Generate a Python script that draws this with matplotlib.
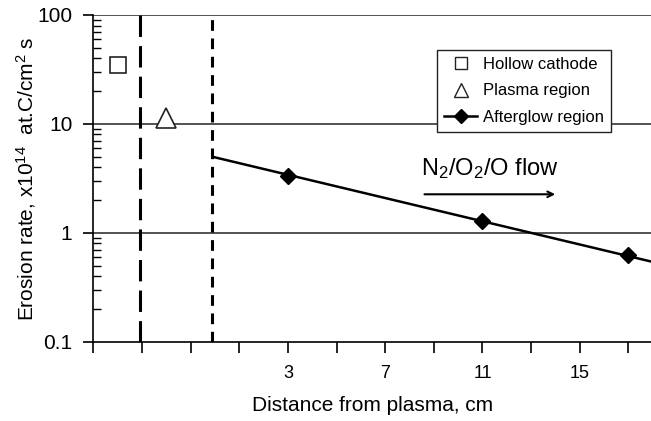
import matplotlib
matplotlib.use("Agg")
import matplotlib.pyplot as plt
from matplotlib.lines import Line2D
from matplotlib.ticker import FixedLocator, FixedFormatter, LogLocator, NullFormatter

plt.rcParams['font.family'] = ['Liberation Sans', 'DejaVu Sans']
plt.rcParams['mathtext.fontset'] = 'custom'
plt.rcParams['mathtext.rm'] = 'Liberation Sans'
plt.rcParams['mathtext.it'] = 'Liberation Sans:italic'

# data
hollow_x = [-4]
hollow_y = [34.7]
plasma_x = [-2]
plasma_y = [11.3]
after_x = [3, 11, 17]
after_y = [3.33, 1.28, 0.625]
fit_x = [0, 17.93]
fit_y = [4.93, 0.545]
boundaries = [-3.1, -0.1]
xticks = [-5, -3, -1, 1, 3, 5, 7, 9, 11, 13, 15, 17]
xticklabels = ["", "", "", "", "3", "", "7", "", "11", "", "15", ""]
yticks = [0.1, 1, 10, 100]
yticklabels = ["0.1", "1", "10", "100"]

fig = plt.figure(figsize=(6.51, 4.21), dpi=100)
ax = fig.add_axes([93.3/651, 1-341.7/421, 1-93.3/651, (341.7-15)/421])
ax.set_yscale('log')
ax.set_xlim(-5, 17.93)
ax.set_ylim(0.1, 100)

for v in yticks[1:]:
    ax.axhline(v, color='#444444', lw=1.3, zorder=1)

ax.axvline(boundaries[0], color='black', lw=2.2, dashes=(7, 3), zorder=2)
ax.axvline(boundaries[1], color='black', lw=2.2, dashes=(3.5, 2.5), zorder=2)

ax.plot(hollow_x, hollow_y, 's', ms=11, mfc='white', mec='#222222', mew=1.2, zorder=3)
ax.plot(plasma_x, plasma_y, '^', ms=14, mfc='white', mec='#222222', mew=1.2, zorder=3)
ax.plot(fit_x, fit_y, '-', color='black', lw=1.8, zorder=3)
ax.plot(after_x, after_y, 'D', ms=8.5, color='black', zorder=4)

ax.spines['top'].set_visible(False)
ax.spines['right'].set_visible(False)
ax.spines['left'].set_linewidth(1.2)
ax.spines['bottom'].set_linewidth(1.2)

ax.xaxis.set_major_locator(FixedLocator(xticks))
ax.xaxis.set_major_formatter(FixedFormatter(xticklabels))
ax.yaxis.set_major_locator(FixedLocator(yticks))
ax.yaxis.set_major_formatter(FixedFormatter(yticklabels))
ax.yaxis.set_minor_locator(LogLocator(base=10, subs=range(2, 10)))
ax.yaxis.set_minor_formatter(NullFormatter())
ax.tick_params(axis='x', direction='out', length=8, width=1.2, labelsize=13, pad=9)
ax.tick_params(axis='y', which='major', direction='out', length=7, width=1.2, labelsize=15, pad=8)
ax.tick_params(axis='y', which='minor', direction='in', length=6, width=1.0)

ax.set_xlabel("Distance from plasma, cm", fontsize=15)
ax.set_ylabel("Erosion rate, x10$^{14}$  at.C/cm$^{2}$ s", fontsize=15)
ax.xaxis.set_label_coords(0.5015, -0.165)
ax.yaxis.set_label_coords(-0.100, 0.498)

ax.text(489.8, 421-175, "N$_2$/O$_2$/O flow", transform=None, fontsize=17,
        ha='center', va='baseline')
ax.annotate("", xy=(558, 421-194.3), xytext=(421.7, 421-194.3),
            xycoords='figure pixels', textcoords='figure pixels',
            arrowprops=dict(arrowstyle='->', color='black', lw=1.5))

handles = [
    Line2D([], [], ls='none', marker='s', ms=9, mfc='white', mec='#222222', mew=1.0),
    Line2D([], [], ls='none', marker='^', ms=10, mfc='white', mec='#222222', mew=1.0),
    Line2D([], [], ls='-', color='black', lw=1.8, marker='D', ms=7),
]
leg = ax.legend(handles, ["Hollow cathode", "Plasma region", "Afterglow region"],
                loc='upper left', bbox_to_anchor=(437.3/651, 1-50/421),
                bbox_transform=fig.transFigure, fontsize=12, frameon=True,
                fancybox=False, edgecolor='#222222', framealpha=1,
                handlelength=2.0, handletextpad=0.35, borderpad=0.4,
                labelspacing=0.7, borderaxespad=0)
leg.get_frame().set_linewidth(1.0)
leg.set_zorder(5)

fig.savefig("out.png", dpi=100)
